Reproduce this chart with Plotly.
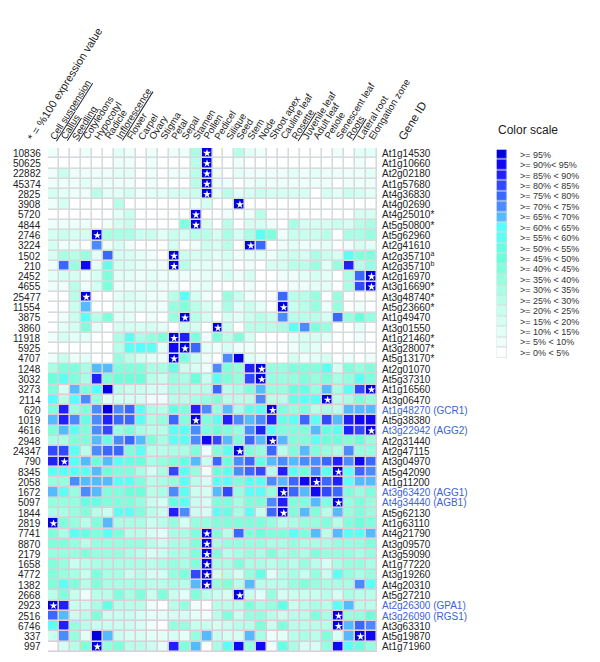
import plotly.graph_objects as go

S = 20  # 100 % expression value (starred cell)
tissues = ["Cell suspension","Callus","Seedling","Cotyledons","Hypocotyl","Radicle","Inflorescence","Flower","Carpel","Ovary","Stigma","Petal","Sepal","Stamen","Pollen","Pedicel","Silique","Seed","Stem","Node","Shoot apex","Cauline leaf","Rosette","Juvenile leaf","Adult leaf","Petiole","Senescent leaf","Roots","Lateral root","Elongation zone"]
underlined = ["Cell suspension","Callus","Seedling","Inflorescence","Rosette","Roots"]
counts = [10836,50625,22882,45374,2825,3908,5720,4844,2746,3224,1502,210,2452,4655,25477,11554,3875,3860,11918,5925,4707,1248,3032,3273,2114,620,1019,4616,2948,24347,790,8345,2058,1672,5097,1844,2819,7741,8870,2179,1658,4772,1382,2668,2923,2516,6746,337,997]
genes = ["At1g14530","At1g10660","At2g02180","At1g57680","At4g36830","At4g02690","At4g25010*","At5g50800*","At5g62960","At2g41610","At2g35710<sup>a</sup>","At2g35710<sup>b</sup>","At2g16970","At3g16690*","At3g48740*","At5g23660*","At1g49470","At3g01550","At1g21460*","At3g28007*","At5g13170*","At2g01070","At5g37310","At1g16560","At3g06470","At1g48270 (GCR1)","At5g38380","At3g22942 (AGG2)","At2g31440","At2g47115","At3g04970","At5g42090","At1g11200","At3g63420 (AGG1)","At4g34440 (AGB1)","At5g62130","At1g63110","At4g21790","At3g09570","At3g59090","At1g77220","At3g19260","At4g20310","At5g27210","At2g26300 (GPA1)","At3g26090 (RGS1)","At3g63310","At5g19870","At1g71960"]
highlighted = ["GCR1","AGG2","AGG1","AGB1","GPA1","RGS1"]

# colour-scale class of every cell: 0 = 0-5 %, 1 = 5-10 %, ... 19 = >=95 %, S = 100 %
left_half = [
[1,0,0,1,0,0,2,1,0,1,0,1,1,6,S],
[0,0,0,0,0,0,1,1,0,1,0,0,0,5,S],
[1,4,1,1,1,1,2,2,0,1,0,1,1,5,S],
[1,1,1,2,1,1,1,1,0,1,0,0,0,5,S],
[3,2,1,1,5,2,2,3,1,2,2,3,3,4,S],
[1,3,0,0,0,0,5,0,0,0,0,0,0,1,3],
[0,0,0,0,0,0,2,4,0,0,0,0,0,S,0],
[1,1,1,1,0,1,3,4,0,0,0,0,8,S,3],
[3,4,3,3,S,6,6,6,4,4,2,4,3,5,5],
[3,1,1,0,14,1,3,1,0,0,0,3,0,1,4],
[3,6,5,7,2,15,3,3,2,1,0,S,4,3,3],
[1,15,7,18,2,10,3,3,2,1,1,S,5,2,2],
[2,3,3,1,3,8,2,2,1,2,1,1,1,1,2],
[1,1,5,1,3,8,1,1,1,2,1,1,0,1,2],
[0,0,5,S,0,0,2,3,2,1,1,5,11,3,1],
[0,0,4,13,0,0,2,2,2,1,1,7,8,5,3],
[0,1,4,11,5,8,2,2,0,1,0,7,S,5,3],
[0,2,3,8,2,0,3,3,3,3,2,0,4,3,0],
[1,3,2,2,0,0,6,11,6,7,8,S,17,8,1],
[0,0,0,0,0,0,5,11,12,11,2,18,S,15,2],
[1,4,1,2,0,0,7,5,3,2,1,S,8,4,1],
[6,8,8,6,13,13,8,8,8,6,6,10,4,3,1],
[9,11,8,6,17,8,9,9,9,5,4,7,6,9,4],
[8,3,13,8,12,19,5,4,4,3,3,6,6,5,5],
[12,5,12,14,7,2,3,3,3,1,1,5,5,6,7],
[8,17,7,8,14,19,14,15,11,6,5,10,8,17,14],
[13,17,14,10,14,17,15,15,11,6,7,15,8,S,8],
[8,13,11,8,14,16,7,8,6,5,5,11,11,14,8],
[6,6,8,8,13,10,14,15,13,8,6,11,11,14,18],
[16,16,11,5,14,15,15,8,11,5,5,6,6,8,1],
[17,S,11,13,9,13,11,10,9,6,7,8,10,13,4],
[11,11,11,11,13,9,8,8,6,3,6,16,11,7,1],
[7,7,14,13,13,13,11,11,8,5,6,7,11,5,3],
[13,11,7,14,13,8,8,9,9,5,6,14,11,4,3],
[7,7,7,10,10,8,8,8,7,4,3,10,11,4,3],
[6,6,7,8,5,4,11,11,8,5,4,17,14,4,3],
[S,8,7,5,8,13,6,6,6,4,5,7,3,7,7],
[8,6,11,10,8,11,8,5,5,3,2,6,6,8,S],
[8,8,7,5,7,7,7,7,7,5,4,6,6,8,S],
[7,7,7,8,7,7,7,6,5,3,4,6,6,8,S],
[8,7,4,5,6,6,6,6,6,5,6,7,6,8,S],
[8,7,6,4,8,6,6,4,5,3,3,7,8,16,S],
[8,11,8,5,8,6,6,6,6,5,5,6,5,13,S],
[5,8,4,1,5,5,8,6,8,4,8,4,2,8,5],
[S,17,4,4,6,10,5,5,5,1,0,5,7,1,0],
[15,13,4,5,8,4,4,4,3,2,2,3,3,2,1],
[11,17,7,5,4,4,4,4,3,1,0,7,7,4,4],
[4,14,7,2,19,13,4,3,3,2,2,3,2,7,13],
[0,3,5,8,S,7,8,5,5,4,2,17,8,13,0],
]
right_half = [
[0,0,5,2,1,0,0,0,0,0,0,1,0,2,2],
[0,0,1,0,0,0,0,0,0,0,0,0,0,1,0],
[1,0,2,1,1,1,1,2,1,2,1,1,1,1,2],
[1,1,0,1,2,1,1,1,1,1,1,0,1,1,1],
[2,5,2,3,4,3,3,3,3,0,3,2,4,3,2],
[0,0,S,0,0,0,0,0,0,0,0,0,0,0,0],
[0,1,0,1,5,0,0,0,0,0,0,0,0,3,3],
[0,5,0,3,3,1,0,6,3,3,3,4,3,5,6],
[3,6,3,6,11,8,1,4,4,4,5,0,6,6,7],
[3,5,0,S,15,0,1,2,1,1,2,0,1,3,2],
[2,3,1,2,2,1,3,4,3,6,4,3,11,8,8],
[1,2,0,1,0,3,3,5,5,7,2,7,17,5,7],
[1,3,1,3,0,0,1,1,2,3,2,0,6,15,S],
[0,0,0,1,0,0,0,1,1,2,2,0,6,16,S],
[0,7,4,1,0,0,15,5,5,7,0,7,0,0,0],
[1,6,2,4,2,0,S,4,5,7,1,7,0,1,0],
[0,3,2,4,5,4,14,5,5,5,3,15,7,9,7],
[S,4,0,5,5,5,6,11,14,8,7,0,0,2,0],
[8,5,8,3,0,0,0,2,3,3,2,0,0,1,0],
[1,3,1,1,0,0,0,1,3,2,0,0,0,0,0],
[0,14,19,2,1,0,0,3,1,2,3,0,1,0,1],
[14,8,7,17,S,7,7,8,8,8,11,3,8,7,8],
[11,8,7,16,S,7,7,7,8,7,8,6,7,11,8],
[15,5,6,8,13,7,7,9,10,7,13,6,11,16,S],
[8,5,5,5,14,5,5,10,11,11,S,5,6,8,7],
[7,13,6,10,11,S,8,7,8,5,6,5,13,13,13],
[11,17,14,13,14,17,10,11,15,11,16,13,17,18,18],
[9,8,7,14,17,11,8,8,8,13,10,11,17,16,S],
[16,13,8,15,13,S,13,8,8,11,9,9,8,9,7],
[8,11,S,8,7,15,5,8,13,8,7,6,14,7,7],
[15,9,14,15,10,13,14,13,14,14,15,17,14,18,15],
[9,11,14,15,16,5,17,11,9,14,11,S,11,15,14],
[11,11,8,11,11,14,13,15,18,S,15,17,11,13,13],
[13,16,7,11,11,7,S,15,13,18,16,15,8,7,8],
[8,8,6,8,8,14,17,8,8,13,8,S,7,8,7],
[11,10,6,11,4,15,S,8,13,8,5,13,7,8,7],
[8,8,8,8,8,7,5,6,7,7,8,5,8,9,8],
[8,5,15,8,9,8,8,11,8,13,5,13,11,11,13],
[6,7,7,7,7,6,6,7,6,6,6,7,7,7,8],
[8,5,6,7,6,8,6,7,6,8,7,7,7,6,7],
[6,6,8,6,6,5,6,5,7,5,3,6,7,7,6],
[3,5,3,7,10,2,5,6,4,7,4,11,7,6,7],
[7,8,5,13,5,5,5,7,8,7,6,6,6,14,11],
[4,3,S,4,2,7,3,4,4,4,5,3,6,5,5],
[5,5,5,8,6,7,10,4,5,6,5,11,13,5,5],
[5,8,4,7,7,5,4,5,5,8,6,S,7,7,9],
[3,4,5,5,8,4,8,5,5,5,5,S,13,15,14],
[4,3,3,13,6,1,2,5,6,5,8,3,13,S,18],
[6,11,18,7,18,1,10,6,3,3,7,18,11,9,7],
]
levels = [a + b for a, b in zip(left_half, right_half)]
assert len(levels) == len(genes) == len(counts) == 49 and all(len(r) == 30 for r in levels)

scale_colors = ["#ffffff","#eefffb","#e2fff8","#d6fff4","#c8ffef","#b8ffea","#a8ffe6","#96ffe0",
                "#80ffdc","#6cffdc","#66ffe6","#5cfff4","#55ffff","#55bbff","#4a8cff","#3868ff",
                "#3048ff","#2020ff","#1008f4","#0000e0","#0000e0"]
scale_labels = [">= 95%",">= 90%< 95%",">= 85% < 90%",">= 80% < 85%",">= 75% < 80%",">= 70% < 75%",">= 65% < 70%",">= 60% < 65%",">= 55% < 60%",">= 50% < 55%",">= 45% < 50%",">= 40% < 45%",">= 35% < 40%",">= 30% < 35%",">= 25% < 30%",">= 20% < 25%",">= 15% < 20%",">= 10% < 15%",">= 5% < 10%",">= 0% < 5%"]
scale_levels = [19,18,17,16,15,14,13,12,11,10,9,8,7,6,5,4,3,2,1,0]

W, H = 600, 662
GRID_BORDER, PINK_BORDER = "#d6dcdc", "#dccfd8"
GX0, GX1, GY0, GY1 = 48, 377, 148, 652
LX0, LX1, LY0, LY1 = 496.5, 507, 149.5, 358
FONT = "Liberation Sans"

n = len(scale_colors)
colorscale = []
for i, c in enumerate(scale_colors):
    colorscale += [[i / n, c], [(i + 1) / n, c]]

fig = go.Figure()
fig.add_trace(go.Heatmap(z=levels, colorscale=colorscale, zmin=-0.5, zmax=n - 0.5, showscale=False,
                         xgap=1.6, ygap=1.6, hoverinfo="skip"))
stars = [(c, r) for r, row in enumerate(levels) for c, v in enumerate(row) if v == S]
fig.add_trace(go.Scatter(x=[c for c, _ in stars], y=[r for _, r in stars], mode="markers", showlegend=False,
                         marker=dict(symbol="star", size=6, color="white", line=dict(width=0)), hoverinfo="skip"))
fig.add_trace(go.Heatmap(z=[[v] for v in scale_levels], colorscale=colorscale, zmin=-0.5, zmax=n - 0.5,
                         showscale=False, xgap=1.2, ygap=1.2, xaxis="x2", yaxis="y2", hoverinfo="skip"))

ann = []
for i, t in enumerate(tissues):
    ann.append(dict(x=i - 0.5, y=-0.5, xref="x", yref="y", text=t, showarrow=False, textangle=-58,
                    xanchor="left", yanchor="bottom", xshift=-3, yshift=4,
                    font=dict(family=FONT, size=9.7, color="#222222",
                              lineposition="under" if t in underlined else "none")))
for i, (c, g) in enumerate(zip(counts, genes)):
    ann.append(dict(x=-0.5, y=i, xref="x", yref="y", text=str(c), showarrow=False, xanchor="right", xshift=-5,
                    font=dict(family=FONT, size=10, color="#222222")))
    blue = any(h in g for h in highlighted)
    ann.append(dict(x=29.5, y=i, xref="x", yref="y", text=g, showarrow=False, xanchor="left", xshift=3,
                    font=dict(family=FONT, size=10, color="#3b62d8" if blue else "#222222")))
ann.append(dict(x=22 / W, y=1 - 145 / H, xref="paper", yref="paper", text="* = %100 expression value", showarrow=False,
                textangle=-58, xanchor="left", yanchor="bottom", font=dict(family=FONT, size=11, color="#222222")))
ann.append(dict(x=393 / W, y=1 - 145 / H, xref="paper", yref="paper", text="Gene ID", showarrow=False,
                textangle=-58, xanchor="left", yanchor="bottom", font=dict(family=FONT, size=11.5, color="#222222")))
ann.append(dict(x=496 / W, y=1 - 130 / H, xref="paper", yref="paper", text="Color scale", showarrow=False,
                xanchor="left", yanchor="middle", font=dict(family=FONT, size=12, color="#222222")))
for i, t in enumerate(scale_labels):
    ann.append(dict(x=0, y=i, xref="x2", yref="y2", text=t, showarrow=False, xanchor="left", xshift=16,
                    font=dict(family=FONT, size=9, color="#333333")))

fig.update_layout(
    width=W, height=H, margin=dict(l=0, r=0, t=0, b=0), paper_bgcolor="white", plot_bgcolor=GRID_BORDER,
    showlegend=False, annotations=ann,
    xaxis=dict(domain=[GX0 / W, GX1 / W], range=[-0.5, 29.5], visible=False, anchor="y"),
    yaxis=dict(domain=[1 - GY1 / H, 1 - GY0 / H], range=[48.5, -0.5], visible=False, anchor="x"),
    xaxis2=dict(domain=[LX0 / W, LX1 / W], range=[-0.5, 0.5], visible=False, anchor="y2"),
    yaxis2=dict(domain=[1 - LY1 / H, 1 - LY0 / H], range=[19.5, -0.5], visible=False, anchor="x2"),
    shapes=[dict(type="rect", xref="x", yref="y", x0=-0.5, x1=29.5, y0=20.5, y1=48.5, layer="below",
                 fillcolor=PINK_BORDER, line=dict(width=0))],
)
fig.write_html("out.html", config={"displayModeBar": False}, post_script="document.body.style.margin='0';")
